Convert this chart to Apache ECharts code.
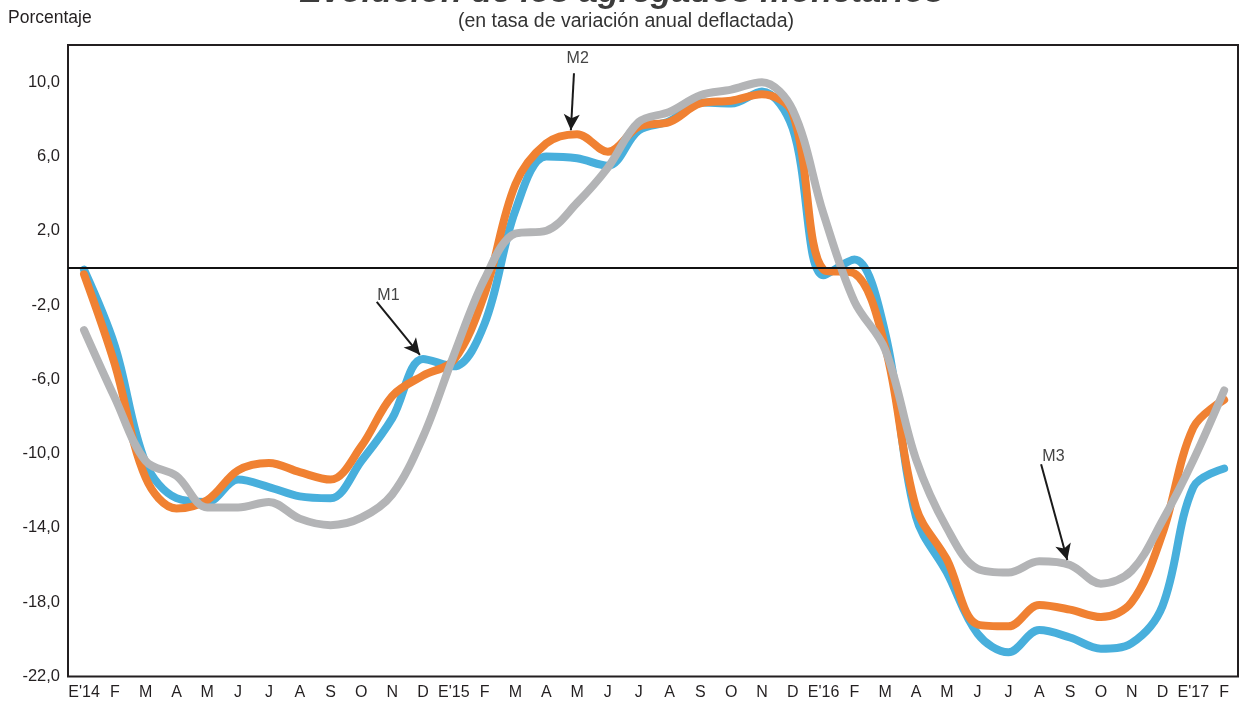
<!DOCTYPE html>
<html><head><meta charset="utf-8">
<script src="https://cdn.jsdelivr.net/npm/echarts@6/dist/echarts.min.js"></script>
<style>html,body{margin:0;padding:0;background:#fff}#c{width:1243px;height:704px}</style>
</head><body><div id="c"></div>
<script>
// Category labels (monthly, Jan 2014 - Feb 2017)
const categories = ["E'14","F","M","A","M","J","J","A","S","O","N","D",
  "E'15","F","M","A","M","J","J","A","S","O","N","D",
  "E'16","F","M","A","M","J","J","A","S","O","N","D",
  "E'17","F"];
const yTicks = [-22,-18,-14,-10,-6,-2,2,6,10];

const m1 = [-0.1,-4.2,-10.5,-12.4,-12.6,-11.4,-11.8,-12.3,-12.4,-10.4,-8.1,-4.9,
  -5.3,-3.0,3.1,6.0,5.9,5.5,7.4,7.9,8.9,8.85,9.5,7.5,
  -0.4,0.45,-3.5,-13.4,-16.4,-19.7,-20.7,-19.5,-19.9,-20.5,-20.2,-18.2,
  -11.8,-10.8];
const m2 = [-0.35,-5.2,-11.3,-12.95,-12.5,-10.9,-10.5,-11.0,-11.4,-9.6,-6.9,-5.8,
  -4.97,-1.4,4.5,6.7,7.2,6.25,7.6,7.85,8.85,9.0,9.35,8.3,
  -0.1,-0.3,-4.25,-12.9,-15.7,-19.2,-19.3,-18.15,-18.4,-18.8,-18.0,-14.3,
  -8.6,-7.1];
const m3 = [-3.35,-7.0,-10.4,-11.2,-12.9,-12.9,-12.6,-13.5,-13.85,-13.45,-12.2,-9.1,
  -4.7,-0.6,1.85,2.0,3.5,5.4,7.85,8.4,9.3,9.6,10.0,8.5,
  2.9,-1.8,-4.4,-10.3,-14.0,-16.2,-16.4,-15.8,-16.0,-17.0,-16.3,-13.6,
  -10.35,-6.6];

const annotations = [
  {name:'M1', from:[9.50,-1.83], to:[10.90,-4.68], text:[9.88,-1.47]},
  {name:'M2', from:[15.90,10.48], to:[15.80,7.41], text:[16.02,11.27]},
  {name:'M3', from:[31.06,-10.57], to:[31.91,-15.73], text:[31.46,-10.17]}
];

const FONT = "'Liberation Sans', Arial, sans-serif";
const pairs = arr => arr.map((v,i)=>[i,v]);
const chart = echarts.init(document.getElementById('c'), null, {renderer:'canvas'});

function lineSeries(name, data, color) {
  return {
    name, type:'line', data: pairs(data), smooth:0.35, showSymbol:false, symbol:'none',
    lineStyle:{color, width:8, cap:'round', join:'round'}, silent:true
  };
}

const arrowSeries = {
  type:'line', data:[], silent:true,
  markLine:{
    silent:true, animation:false,
    symbol:['none','arrow'], symbolSize:[12,16],
    label:{show:false},
    lineStyle:{color:'#1a1a1a', width:2, type:'solid'},
    itemStyle:{color:'#1a1a1a'},
    data: annotations.map(a=>[{coord:a.from},{coord:a.to}])
  }
};

chart.setOption({
  animation:false,
  grid:{left:68, top:45, right:5, bottom:27.5, show:true, borderColor:'#231F20', borderWidth:2, backgroundColor:'transparent'},
  xAxis:{
    type:'value', min:-0.52, max:37.45,
    axisLine:{show:false}, axisTick:{show:false}, splitLine:{show:false},
    axisLabel:{customValues: categories.map((c,i)=>i), formatter: v=>categories[Math.round(v)],
      color:'#231F20', fontSize:16, fontFamily:FONT, margin:8}
  },
  yAxis:{
    type:'value', min:-22, max:12,
    axisLine:{show:false}, axisTick:{show:false}, splitLine:{show:false},
    axisLabel:{customValues: yTicks, formatter: v=>v.toFixed(1).replace('.',','),
      color:'#231F20', fontSize:16.5, fontFamily:FONT, margin:8}
  },
  series:[
    {type:'line', data:[], silent:true,
      markLine:{silent:true, animation:false, symbol:'none', label:{show:false},
        lineStyle:{color:'#111', width:1.8, type:'solid'}, data:[{yAxis:0}]}},
    lineSeries('M1', m1, '#48AFDC'),
    lineSeries('M2', m2, '#F08132'),
    lineSeries('M3', m3, '#B3B4B6'),
    arrowSeries
  ]
});

const graphics = [
  {type:'text', left:'center', top:-24, style:{text:'Evolución de los agregados monetarios', font:"italic bold 34px "+FONT, fill:'#3c3c3c'}},
  {type:'text', x:626, y:22, style:{text:'(en tasa de variación anual deflactada)', font:"19.5px "+FONT, fill:'#333', textAlign:'center', textVerticalAlign:'middle'}},
  {type:'text', x:8, y:18, style:{text:'Porcentaje', font:"17.5px "+FONT, fill:'#231F20', textAlign:'left', textVerticalAlign:'middle'}}
];
annotations.forEach(a=>{
  const p = chart.convertToPixel({gridIndex:0}, a.text);
  graphics.push({type:'text', x:p[0], y:p[1], z:10, style:{text:a.name, font:"16px "+FONT, fill:'#444', textAlign:'center', textVerticalAlign:'middle'}});
});
chart.setOption({graphic:graphics});
</script></body></html>
